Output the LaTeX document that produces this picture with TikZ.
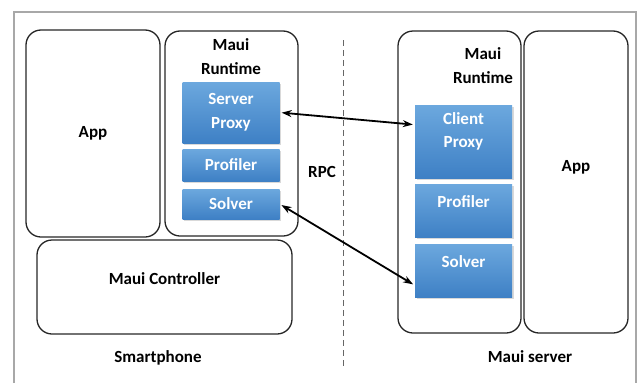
\documentclass[tikz,border=0pt]{standalone}
\usepackage{fontspec}
\setmainfont{Carlito}
\usetikzlibrary{arrows.meta, shadows}
\definecolor{mtop}{HTML}{6CA8DE}
\definecolor{mbot}{HTML}{3E80C5}
\definecolor{mframe}{HTML}{A8A8A8}

\begin{document}
\begin{tikzpicture}[x=1pt, y=-1pt,
  font=\fontsize{17}{24}\selectfont\bfseries,
  box/.style={draw=black!85, line width=1.3pt, rounded corners=15pt},
  module/.style={top color=mtop, bottom color=mbot, text=white, align=center,
    minimum width=97pt, inner sep=0pt,
    drop shadow={opacity=0.3, shadow xshift=1.5pt, shadow yshift=-2pt}},
  link/.style={{Stealth[length=10pt,width=7pt]}-{Stealth[length=10pt,width=7pt]}, line width=1.8pt,
    shorten <=2pt, shorten >=2pt}]
\useasboundingbox (0,0) rectangle (642,383);

% Outer frame and the divider
\draw[mframe, line width=1.3pt] (14,383) -- (14,12) -- (636,12) -- (636,383);
\draw[black!60, dashed, line width=0.8pt, dash pattern=on 6pt off 4pt] (343,40) -- (343,366);

% Smartphone side
\node[box, minimum width=134pt, minimum height=207pt] (appL) at (93,133.5) {App};
\node[box, minimum width=133pt, minimum height=205pt] (rtL) at (231.5,133.5) {};
\node[align=center] (rtLtitle) at (231,57) {Maui\\Runtime};
\node[module, minimum height=61pt] (spL) at (231,112.5) {Server\\Proxy};
\node[module, minimum height=32pt] (pfL) at (231,165) {Profiler};
\node[module, minimum height=30pt] (svL) at (231,204) {Solver};
\node[box, minimum width=255pt, minimum height=94pt, text depth=17pt] (ctrl) at (164.5,287) {Maui Controller};
\node (phone) at (158,358) {Smartphone};

\node (rpc) at (322,172) {RPC};

% Server side
\node[box, minimum width=123pt, minimum height=302pt] (rtR) at (459.5,182) {};
\node[align=center] (rtRtitle) at (483,66) {Maui\\Runtime};
\node[module, minimum height=73pt] (cpR) at (463.5,141.5) {Client\\[-1pt]Proxy\\[-8pt]\strut};
\node[module, minimum height=53pt, text depth=17pt] (pfR) at (463.5,210.5) {Profiler};
\node[module, minimum height=53pt, text depth=17pt] (svR) at (463.5,270.5) {Solver};
\node[box, minimum width=104pt, minimum height=302pt, text depth=33pt] (appR) at (576,182) {App};
\node (server) at (530,357) {Maui server};

% RPC links
\draw[link] (spL.east) -- (cpR.161);
\draw[link] (svL.east) -- (svR.197);

\end{tikzpicture}
\end{document}
